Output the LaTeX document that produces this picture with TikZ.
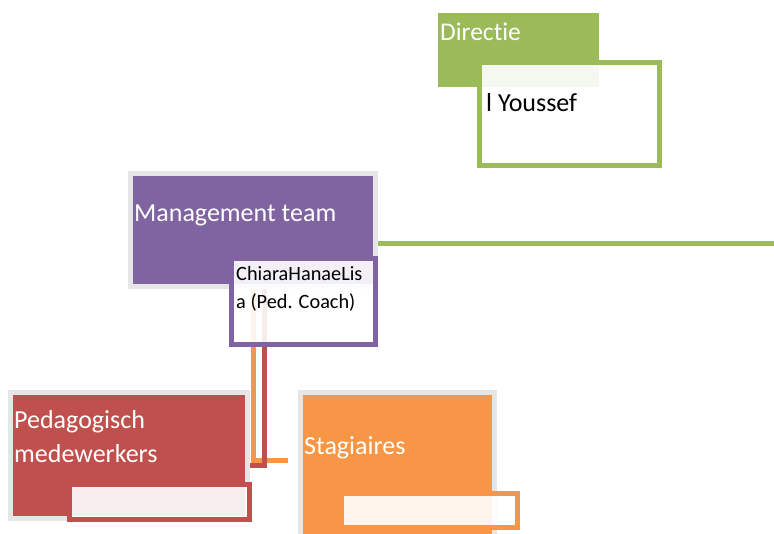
\documentclass[tikz,border=0pt]{standalone}
\usepackage{fontspec}
\setmainfont{Carlito}[Ligatures={NoCommon}]
\definecolor{cgreen}{HTML}{9BBB59}
\definecolor{cpurple}{HTML}{8064A2}
\definecolor{cred}{HTML}{C0504D}
\definecolor{corange}{HTML}{F79646}
\definecolor{cgray}{HTML}{E6E6E6}
\begin{document}
\begin{tikzpicture}[x=1pt,y=-1pt,
  box/.style={rectangle,inner sep=0pt,outer sep=0pt,anchor=north west,line width=5pt},
  mainbox/.style={box,draw=cgray,fill=#1},
  subbox/.style={box,draw=#1,fill=white,fill opacity=0.9,draw opacity=1},
  lbl/.style={inner sep=0pt,anchor=base west,text=white,font=\fontsize{26}{30}\selectfont},
  dlbl/.style={inner sep=0pt,anchor=base west,text=black,font=\fontsize{#1}{30}\selectfont},
  conn/.style={line width=5pt,draw=#1,miter limit=10}]
\clip (0,0) rectangle (774,534);
\fill[white] (0,0) rectangle (774,534);
% Directie
\node[box,fill=cgreen,minimum width=161pt,minimum height=74pt] (dir) at (438,13) {};
\node[lbl,font=\fontsize{25.5}{30}\selectfont] (dirt) at (440,41) {Directie};
\node[subbox=cgreen,minimum width=180pt,minimum height=103pt] (yous) at (479.5,62.5) {};
\node[dlbl=26] (yoist) at (486,112) {l Youssef};
% green connector
\coordinate (gend) at (774,244);
\draw[conn=cgreen] (gend -| 375,0) -- (gend);
% Management team
\node[mainbox=cpurple,minimum width=245pt,minimum height=113pt] (mgmt) at (130.5,173.5) {};
\node[lbl] (mgmtt) at (134,222) {Management team};
% connectors down
\coordinate (otop) at (253,289);
\coordinate (oend) at (288,460.5);
\coordinate (rtop) at (264.5,289);
\coordinate (rend) at (250,465.5);
\draw[conn=corange] (otop) |- (oend);
\draw[conn=cred] (rtop) |- (rend);
% Chiara box
\node[subbox=cpurple,minimum width=144pt,minimum height=86pt] (coach) at (231.5,258.5) {};
\node[dlbl=20.3] (coach1) at (236,281) {ChiaraHanaeLis};
\node[dlbl=20.3] (coach2) at (236,309) {a (Ped. Coach)};
% Pedagogisch
\node[mainbox=cred,minimum width=237pt,minimum height=126pt] (ped) at (10.5,392.5) {};
\node[lbl] (ped1) at (14,429) {Pedagogisch};
\node[lbl] (ped2) at (14,463) {medewerkers};
\node[subbox=cred,minimum width=180pt,minimum height=35pt] (pedsub) at (69.5,484.5) {};
% Stagiaires
\node[mainbox=corange,minimum width=194pt,minimum height=160pt] (stag) at (300.5,392.5) {};
\node[lbl] (stagt) at (304,455) {Stagiaires};
\node[subbox=corange,minimum width=176pt,minimum height=34pt] (stagsub) at (341.5,493.5) {};
\end{tikzpicture}
\end{document}
